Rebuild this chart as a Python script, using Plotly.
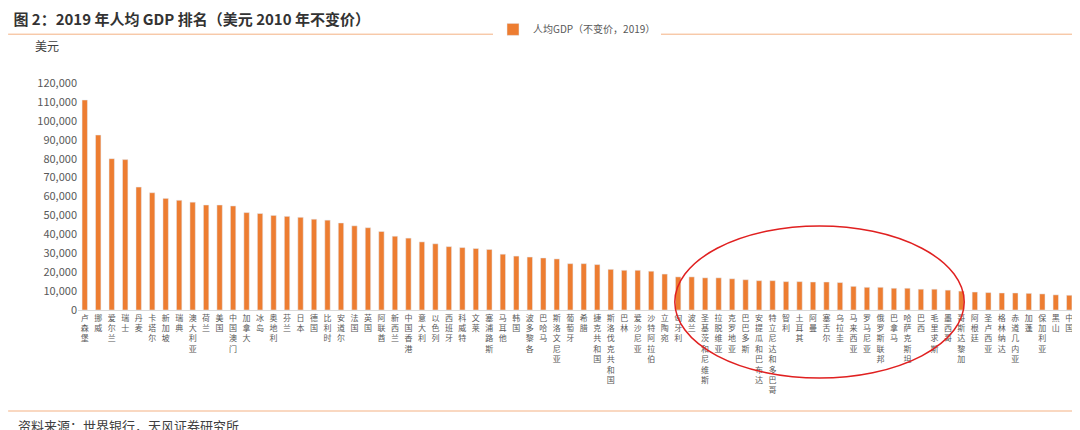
import plotly.graph_objects as go

countries = ['卢森堡', '挪威', '爱尔兰', '瑞士', '丹麦', '卡塔尔', '新加坡', '瑞典', '澳大利亚', '荷兰',
             '美国', '中国澳门', '加拿大', '冰岛', '奥地利', '芬兰', '日本', '德国', '比利时', '安道尔',
             '法国', '英国', '阿联酋', '新西兰', '中国香港', '意大利', '以色列', '西班牙', '科威特', '文莱',
             '塞浦路斯', '马耳他', '韩国', '波多黎各', '巴哈马', '斯洛文尼亚', '葡萄牙', '希腊', '捷克共和国',
             '斯洛伐克共和国', '巴林', '爱沙尼亚', '沙特阿拉伯', '立陶宛', '匈牙利', '波兰', '圣基茨和尼维斯',
             '拉脱维亚', '克罗地亚', '巴巴多斯', '安提瓜和巴布达', '特立尼达和多巴哥', '智利', '土耳其', '阿曼',
             '塞舌尔', '乌拉圭', '马来西亚', '罗马尼亚', '俄罗斯联邦', '巴拿马', '哈萨克斯坦', '巴西', '毛里求斯',
             '墨西哥', '哥斯达黎加', '阿根廷', '圣卢西亚', '格林纳达', '赤道几内亚', '加蓬', '保加利亚', '黑山', '中国']
gdp = [111000, 92500, 80000, 79500, 65000, 62000, 59000, 58000, 57000, 55500,
       55500, 55000, 51500, 51000, 50000, 49500, 49000, 48000, 47500, 46000,
       44500, 43500, 41500, 39000, 38000, 36000, 35000, 33500, 33000, 32500,
       32000, 29500, 28500, 28000, 27500, 27000, 24500, 24500, 24000,
       21500, 21000, 21000, 20500, 19000, 17500, 17500, 17000,
       17000, 16500, 16000, 15500, 15500, 15000, 15000, 14800,
       14800, 14500, 12500, 12000, 12000, 11500, 11500, 11000, 11000,
       10500, 10000, 9500, 9200, 9000, 9000, 8800, 8500, 8000, 7800]
yticks = list(range(0, 120001, 10000))

orange = '#ED7D31'
labels = ['<br>'.join(c) for c in countries]

fig = go.Figure(go.Bar(x=labels, y=gdp, marker_color=orange, name='人均GDP（不变价，2019）'))
fig.update_layout(
    width=1080, height=430,
    margin=dict(l=70, r=12, t=75, b=128, autoexpand=False),
    plot_bgcolor='white', paper_bgcolor='white',
    font=dict(family='Noto Sans CJK SC', color='#595959', size=10),
    bargap=0.6,
    showlegend=True,
    legend=dict(x=0.5, y=1.3, xanchor='center', yanchor='top', font=dict(size=10)),
    xaxis=dict(tickangle=0, tickfont=dict(size=8), showline=True, linecolor='#D9D9D9',
               ticks='', showgrid=False, automargin=False),
    yaxis=dict(range=[0, 120000], tickvals=yticks, tickformat=',', showgrid=False,
               zeroline=False, tickfont=dict(size=11), automargin=False),
    title=dict(text='<b>图 2：2019 年人均 GDP 排名（美元 2010 年不变价）</b>', x=0.005, y=0.985,
               xanchor='left', yanchor='top', font=dict(size=15, color='#333333')),
)
fig.add_annotation(text='美元', xref='paper', yref='paper', x=-0.045, y=1.21, showarrow=False,
                   font=dict(size=12, color='#404040'), xanchor='left')
fig.add_annotation(text='资料来源：世界银行，天风证券研究所', xref='paper', yref='paper', x=-0.062, y=-0.46,
                   showarrow=False, xanchor='left', yanchor='top', font=dict(size=13, color='#404040'))
fig.add_shape(type='line', xref='paper', yref='paper', x0=-0.07, x1=1.01, y0=1.215, y1=1.215,
              line=dict(color='#F4B183', width=1))
fig.add_shape(type='line', xref='paper', yref='paper', x0=-0.07, x1=1.01, y0=-0.445, y1=-0.445,
              line=dict(color='#F4B183', width=1))
fig.add_shape(type='circle', xref='paper', yref='paper', x0=0.598, x1=0.888, y0=-0.30, y1=0.37,
              line=dict(color='#E02020', width=1.5))
fig.write_html('out.html')
